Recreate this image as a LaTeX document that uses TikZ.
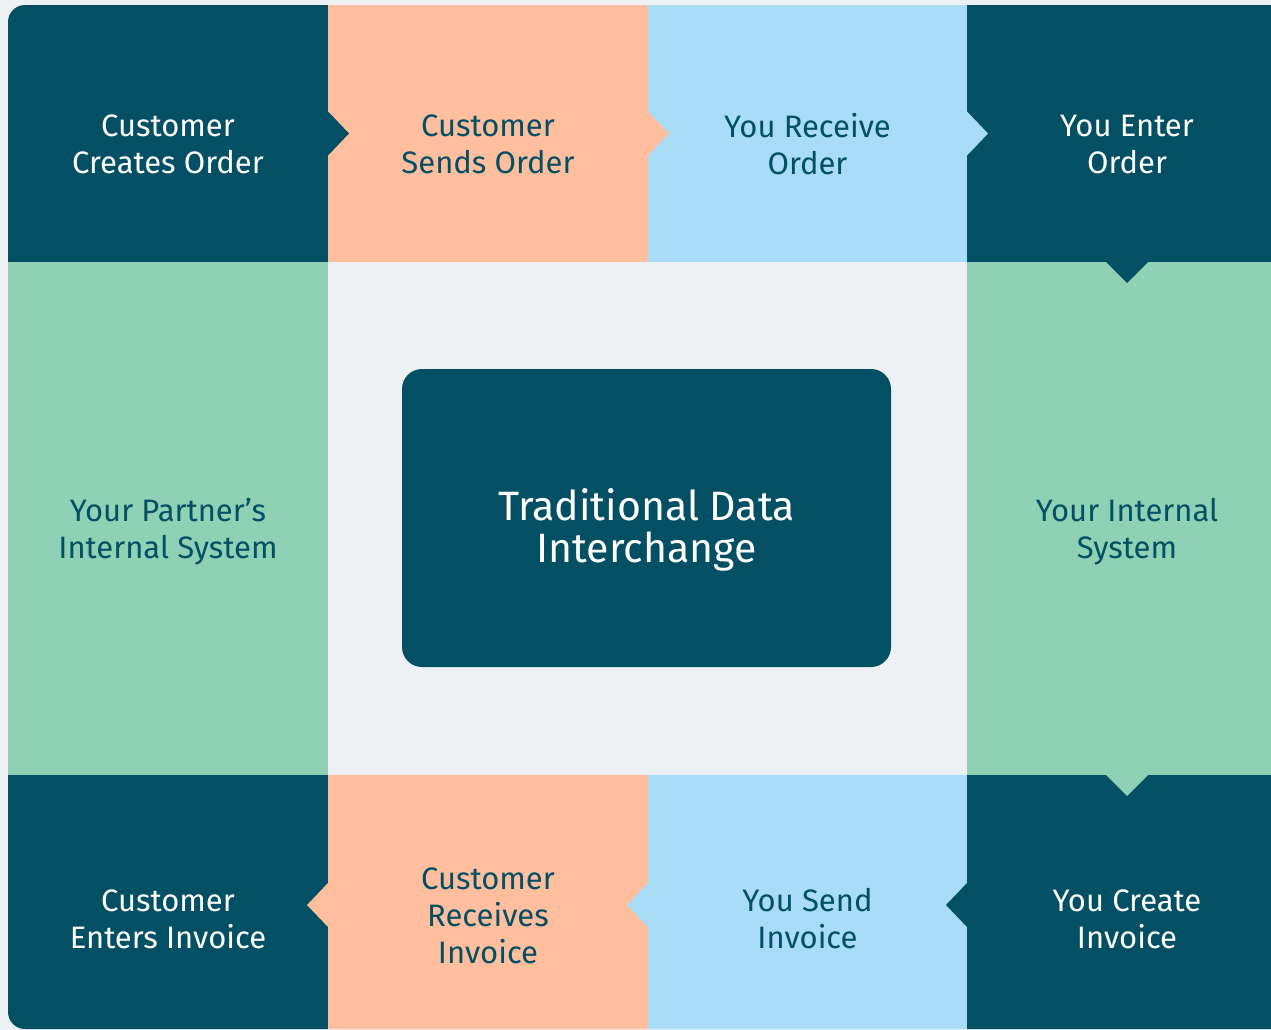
\documentclass[tikz,border=0pt]{standalone}
\usepackage{fontspec}
\setmainfont{Fira Sans}
\usetikzlibrary{positioning,calc}

\definecolor{tealdark}{HTML}{034F63}
\definecolor{peach}{HTML}{FFBE9E}
\definecolor{skyblue}{HTML}{A9DCF7}
\definecolor{mint}{HTML}{8FD1B4}
\definecolor{paper}{HTML}{EEF1F4}

\tikzset{
  cell/.style={rectangle,minimum width=320pt,minimum height=257pt,inner sep=0pt,outer sep=0pt},
  tallcell/.style={cell,minimum height=513pt},
  celltext/.style={align=center,font=\fontsize{31}{37}\selectfont},
}

\begin{document}
\begin{tikzpicture}[x=1pt,y=-1pt]
\useasboundingbox (0,0) rectangle (1271,1030);
\fill[paper] (0,0) rectangle (1271,1030);

\begin{scope}
\clip[rounded corners=17pt] (8,5) rectangle (1300,1029);

% Top row: the order travels to the right
\node[cell,fill=tealdark,anchor=north west] (creates) at (8,5) {};
\node[cell,fill=peach,right=0pt of creates] (sends) {};
\node[cell,fill=skyblue,minimum width=319pt,right=0pt of sends] (receive) {};
\node[cell,fill=tealdark,right=0pt of receive] (enter) {};

% Middle row
\node[tallcell,fill=mint,below=0pt of creates] (partner) {};
\node[tallcell,fill=paper,minimum width=639pt,right=0pt of partner] (middle) {};
\node[tallcell,fill=mint,below=0pt of enter] (internal) {};

% Bottom row: the invoice travels back to the left
\node[cell,fill=tealdark,minimum height=260pt,below=0pt of partner] (entersinv) {};
\node[cell,fill=peach,minimum height=260pt,right=0pt of entersinv] (receivesinv) {};
\node[cell,fill=skyblue,minimum width=319pt,minimum height=260pt,right=0pt of receivesinv] (sendinv) {};
\node[cell,fill=tealdark,minimum height=260pt,below=0pt of internal] (createinv) {};

% Arrow notches
\fill[tealdark] ($(creates.east)+(0,-22)$) -- ++(21,22) -- ++(-21,22) -- cycle;
\fill[peach] ($(sends.east)+(0,-22)$) -- ++(21,22) -- ++(-21,22) -- cycle;
\fill[skyblue] ($(receive.east)+(0,-22)$) -- ++(21,22) -- ++(-21,22) -- cycle;
\fill[tealdark] ($(enter.south)+(-21,0)$) -- ++(21,21) -- ++(21,-21) -- cycle;
\fill[mint] ($(internal.south)+(-21,0)$) -- ++(21,21) -- ++(21,-21) -- cycle;
\fill[tealdark] ($(createinv.west)+(0,-22)$) -- ++(-21,22) -- ++(21,22) -- cycle;
\fill[skyblue] ($(sendinv.west)+(0,-22)$) -- ++(-21,22) -- ++(21,22) -- cycle;
\fill[peach] ($(receivesinv.west)+(0,-22)$) -- ++(-21,22) -- ++(21,22) -- cycle;
\end{scope}

% Labels
\node[celltext,white] (createslbl) at ([yshift=-11pt]creates.center) {Customer\\Creates Order};
\node[celltext,tealdark] (sendslbl) at ([yshift=-11pt]sends.center) {Customer\\Sends Order};
\node[celltext,tealdark] (receivelbl) at ([yshift=-11pt]receive.center) {You Receive\\Order};
\node[celltext,white] (enterlbl) at ([yshift=-11pt]enter.center) {You Enter\\Order};
\node[celltext,tealdark] (partnerlbl) at ([yshift=-13pt]partner.center) {Your Partner’s\\Internal System};
\node[celltext,tealdark] (internallbl) at ([yshift=-13pt]internal.center) {Your Internal\\System};
\node[celltext,white] (entersinvlbl) at ([yshift=-14pt]entersinv.center) {Customer\\Enters Invoice};
\node[celltext,tealdark] (receivesinvlbl) at ([yshift=-11pt]receivesinv.center) {Customer\\Receives\\Invoice};
\node[celltext,tealdark] (sendinvlbl) at ([yshift=-14pt]sendinv.center) {You Send\\Invoice};
\node[celltext,white] (createinvlbl) at ([yshift=-14pt]createinv.center) {You Create\\Invoice};

% Centre box
\node[fill=tealdark,rounded corners=20pt,minimum width=489pt,minimum height=298pt] (tdi) at (646.5,518) {};
\node[text=white,align=center,font=\fontsize{41}{42}\selectfont] (tdilbl) at ([yshift=-12pt]tdi.center)
  {Traditional Data\\Interchange};
\end{tikzpicture}
\end{document}
